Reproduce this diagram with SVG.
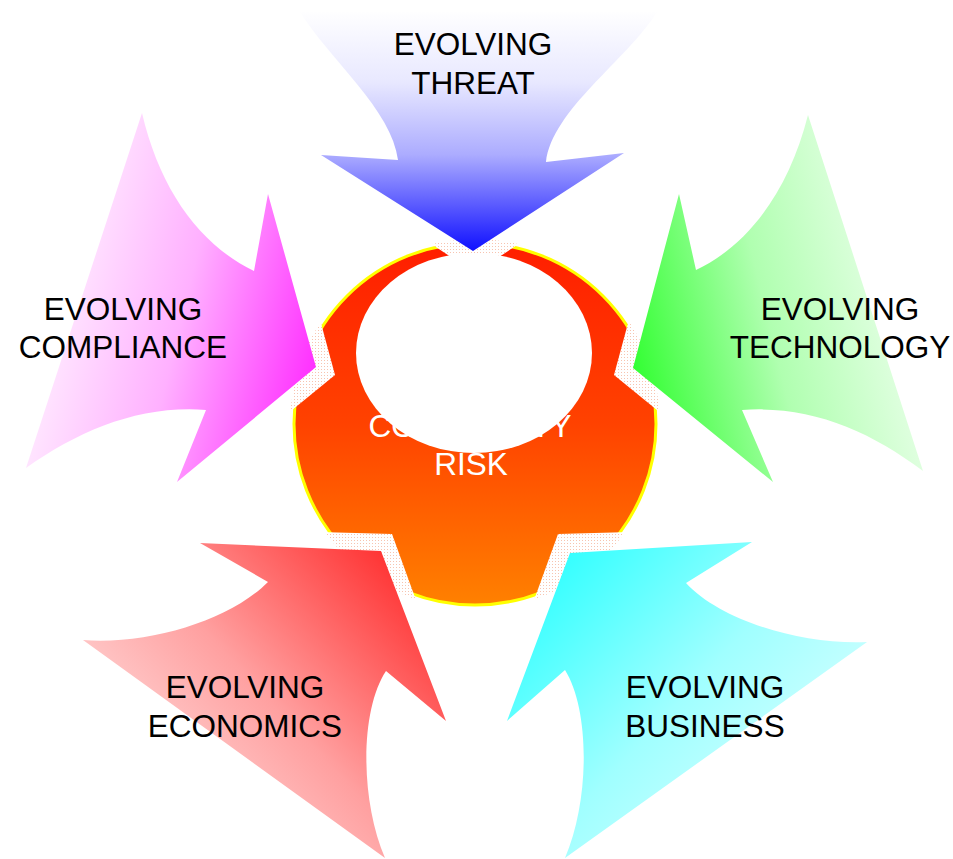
<svg xmlns="http://www.w3.org/2000/svg" width="953" height="859" viewBox="0 0 953 859">
<defs>
<style>
.lbl{font-family:"Liberation Sans",Arial,sans-serif;font-size:31.5px;fill:#000;text-anchor:middle}
.clbl{font-family:"Liberation Sans",Arial,sans-serif;font-size:31.5px;fill:#fff;text-anchor:middle}
</style>
<linearGradient id="gCenter" gradientUnits="userSpaceOnUse" x1="0" y1="245" x2="0" y2="603">
<stop offset="0" stop-color="#ff1e00"/><stop offset="0.5" stop-color="#ff4200"/><stop offset="1" stop-color="#ff8000"/>
</linearGradient>
<linearGradient id="gThreat" gradientUnits="userSpaceOnUse" x1="0" y1="10" x2="0" y2="251">
<stop offset="0" stop-color="#ffffff"/><stop offset="0.3" stop-color="#e8e8ff"/><stop offset="0.6" stop-color="#acacff"/><stop offset="1" stop-color="#1010ff"/>
</linearGradient>
<linearGradient id="gComp" gradientUnits="userSpaceOnUse" x1="40" y1="300" x2="316" y2="367">
<stop offset="0" stop-color="#fff0ff"/><stop offset="0.5" stop-color="#ffb0ff"/><stop offset="1" stop-color="#ff30ff"/>
</linearGradient>
<linearGradient id="gTech" gradientUnits="userSpaceOnUse" x1="910" y1="300" x2="633" y2="367">
<stop offset="0" stop-color="#eaffea"/><stop offset="0.5" stop-color="#b0ffb0"/><stop offset="1" stop-color="#33ff33"/>
</linearGradient>
<linearGradient id="gEcon" gradientUnits="userSpaceOnUse" x1="120" y1="820" x2="400" y2="560">
<stop offset="0" stop-color="#ffe6e6"/><stop offset="0.5" stop-color="#ffa0a0"/><stop offset="1" stop-color="#ff3030"/>
</linearGradient>
<linearGradient id="gBus" gradientUnits="userSpaceOnUse" x1="830" y1="820" x2="550" y2="560">
<stop offset="0" stop-color="#e0ffff"/><stop offset="0.5" stop-color="#a0ffff"/><stop offset="1" stop-color="#30ffff"/>
</linearGradient>
<pattern id="dots" width="3" height="3" patternUnits="userSpaceOnUse">
<rect width="3" height="3" fill="#fff"/><rect width="1" height="1" fill="#f7c4b0"/>
</pattern>
<clipPath id="circClip"><circle cx="475" cy="424" r="185"/></clipPath>
</defs>

<g id="node-center">
<circle cx="475" cy="424" r="181" fill="url(#gCenter)" stroke="#ffff00" stroke-width="3"/>
<g clip-path="url(#circClip)" fill="url(#dots)">
<polygon points="312,290 335,375 265,432 240,300"/>
<polygon points="637,290 614,375 684,432 709,300"/>
<polygon points="350,190 475,273 600,190"/>
<polygon points="250,530 392,534 425,625 250,625"/>
<polygon points="700,530 558,534 525,625 700,625"/>
</g>
<text class="clbl" x="470" y="437">COMPLEXITY</text>
<ellipse cx="474" cy="353" rx="118" ry="100" fill="#fff"/>
<text class="clbl" x="471" y="475">RISK</text>
</g>

<g id="connectors"></g>

<g id="node-threat">
<path d="M300,12 C330,60 392,110 398,160 L321,155 L473,251 L624,153 L546,162 C552,110 627,60 657,12 Z" fill="url(#gThreat)"/>
<text class="lbl" x="473" y="55">EVOLVING</text>
<text class="lbl" x="473" y="94">THREAT</text>
</g>

<g id="node-compliance">
<path d="M142,113 L26,468 C80,430 140,405 206,410 L177,482 L316,367 L268,194 L254,271 C200,245 160,190 142,113 Z" fill="url(#gComp)"/>
<text class="lbl" x="123" y="320">EVOLVING</text>
<text class="lbl" x="123" y="358">COMPLIANCE</text>
</g>

<g id="node-technology">
<path d="M808,115 L923,471 C869,430 809,405 742,410 L773,482 L633,368 L679,194 L696,270 C749,245 789,190 808,115 Z" fill="url(#gTech)"/>
<text class="lbl" x="840" y="320">EVOLVING</text>
<text class="lbl" x="840" y="358">TECHNOLOGY</text>
</g>

<g id="node-economics">
<path d="M200,543 L381,551 L446,721 L386,671 C360,710 360,800 385,858 L83,640 C150,645 230,620 268,582 Z" fill="url(#gEcon)"/>
<text class="lbl" x="245" y="698">EVOLVING</text>
<text class="lbl" x="245" y="737">ECONOMICS</text>
</g>

<g id="node-business">
<path d="M752,542 L570,553 L507,721 L565,670 C590,710 590,800 565,858 L867,642 C800,645 720,620 686,583 Z" fill="url(#gBus)"/>
<text class="lbl" x="705" y="698">EVOLVING</text>
<text class="lbl" x="705" y="737">BUSINESS</text>
</g>
</svg>
